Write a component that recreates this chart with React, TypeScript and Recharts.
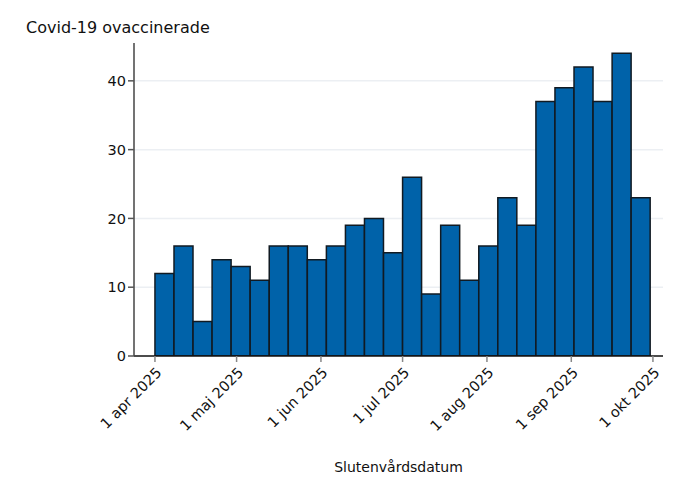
import React from "react";
import { BarChart, Bar, XAxis, YAxis, CartesianGrid } from "recharts";

// Weekly bins (start date) and counts
const weekStarts = [
  "2025-04-01", "2025-04-08", "2025-04-15", "2025-04-22", "2025-04-29",
  "2025-05-06", "2025-05-13", "2025-05-20", "2025-05-27", "2025-06-03",
  "2025-06-10", "2025-06-17", "2025-06-24", "2025-07-01", "2025-07-08",
  "2025-07-15", "2025-07-22", "2025-07-29", "2025-08-05", "2025-08-12",
  "2025-08-19", "2025-08-26", "2025-09-02", "2025-09-09", "2025-09-16",
  "2025-09-23",
];
const counts = [
  12, 16, 5, 14, 13, 11, 16, 16, 14, 16, 19, 20, 15, 26, 9, 19, 11, 16, 23,
  19, 37, 39, 42, 37, 44, 23,
];
const tickDates = [
  "2025-04-01", "2025-05-01", "2025-06-01", "2025-07-01",
  "2025-08-01", "2025-09-01", "2025-10-01",
];
const tickLabels = [
  "1 apr 2025", "1 maj 2025", "1 jun 2025", "1 jul 2025",
  "1 aug 2025", "1 sep 2025", "1 okt 2025",
];
const yTicks = [0, 10, 20, 30, 40];
const gridValues = [10, 20, 30, 40];

const DAY = 86400000;
const origin = Date.UTC(2025, 3, 1);
const toDay = (s: string) => (Date.parse(s + "T00:00:00Z") - origin) / DAY;

const data = weekStarts.map((d, i) => ({ x: toDay(d) + 3.5, count: counts[i] }));
const ticks = tickDates.map(toDay);
const labelFor = (v: number) => tickLabels[ticks.indexOf(v)] ?? "";

const FONT = "Tahoma, 'DejaVu Sans', Verdana, sans-serif";

const AngledTick = (props: any) => {
  const { x, y, payload } = props;
  return (
    <g transform={`translate(${x + 2},${y + 1})`}>
      <text
        transform="rotate(-45)"
        textAnchor="end"
        dy={10}
        dx={-2}
        fill="#111"
        fontSize={14.5}
        fontFamily={FONT}
      >
        {labelFor(payload.value)}
      </text>
    </g>
  );
};

export default function App() {
  return (
    <div style={{ position: "absolute", left: 0, top: 0, width: 682, height: 496, background: "#fff" }}>
      <div
        style={{
          position: "absolute",
          left: 26,
          top: 18,
          fontFamily: FONT,
          fontSize: 16,
          color: "#111",
        }}
      >
        Covid-19 ovaccinerade
      </div>
      <BarChart
        width={682}
        height={496}
        data={data}
        margin={{ top: 43, right: 19, left: 0, bottom: 0 }}
      >
        <CartesianGrid
          horizontal
          vertical={false}
          horizontalValues={gridValues}
          stroke="#eceff3"
          strokeWidth={1.5}
        />
        <XAxis
          dataKey="x"
          type="number"
          domain={[-7.7, 186.7]}
          ticks={ticks}
          allowDataOverflow
          tick={<AngledTick />}
          tickLine={{ stroke: "#888", strokeWidth: 1.5 }}
          tickSize={6}
          axisLine={{ stroke: "#111", strokeWidth: 1.5 }}
          height={140}
          label={{
            value: "Slutenvårdsdatum",
            position: "insideBottom",
            offset: 24,
            fill: "#111",
            fontSize: 14,
            fontFamily: FONT,
          }}
        />
        <YAxis
          width={134}
          domain={[0, 45.5]}
          ticks={yTicks}
          allowDataOverflow
          tick={{ fill: "#111", fontSize: 14.5, fontFamily: FONT }}
          tickLine={{ stroke: "#555", strokeWidth: 1.5 }}
          tickSize={6}
          axisLine={{ stroke: "#444", strokeWidth: 1.5 }}
        />
        <Bar
          dataKey="count"
          fill="#0062a9"
          stroke="#111a22"
          strokeWidth={1.5}
          barSize={19}
          isAnimationActive={false}
        />
      </BarChart>
    </div>
  );
}
